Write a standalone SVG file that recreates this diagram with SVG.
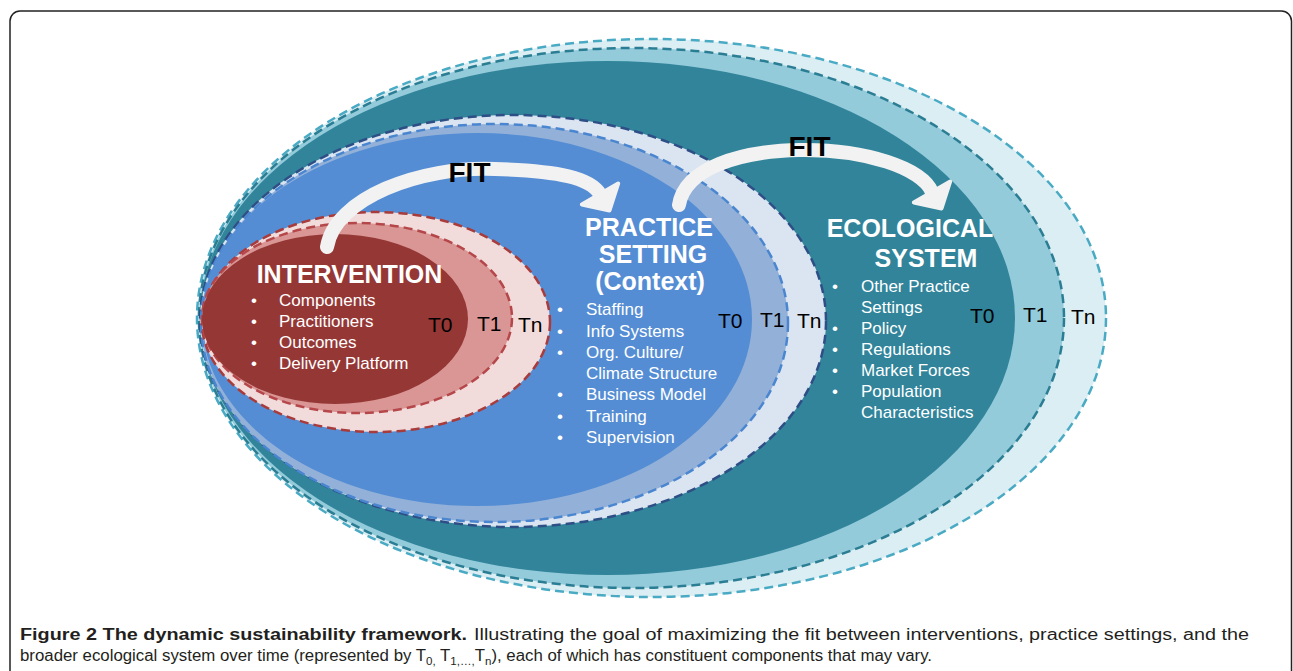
<svg xmlns="http://www.w3.org/2000/svg" width="1293" height="671" viewBox="0 0 1293 671">
<style>
.t{font-family:"Liberation Sans",Arial,sans-serif}
.title{font-family:"Liberation Sans",Arial,sans-serif;font-weight:bold;font-size:25px;fill:#fff;text-anchor:middle}
.item{font-family:"Liberation Sans",Arial,sans-serif;font-size:17px;fill:#fff}
.bul{font-family:"Liberation Sans",Arial,sans-serif;font-size:17px;fill:#fff;text-anchor:middle}
.tl{font-family:"Liberation Sans",Arial,sans-serif;font-size:21px;fill:#000}
.fit{font-family:"Liberation Sans",Arial,sans-serif;font-weight:bold;font-size:28px;fill:#000;text-anchor:middle}
.dash{stroke-width:2.5;stroke-dasharray:9 5}
.arc{fill:none;stroke:#f2f2f2;stroke-width:14;stroke-linecap:round}
.head{fill:#f2f2f2;stroke:#f2f2f2;stroke-width:4;stroke-linejoin:round}
.cap{font-family:"Liberation Sans",Arial,sans-serif;font-size:16px;fill:#231f20}
</style>
<rect x="10" y="11" width="1281.5" height="700" rx="10" fill="#fff" stroke="#222" stroke-width="1.5"/>

<g id="ecological">
<ellipse cx="651.5" cy="318" rx="454.5" ry="279" fill="#dbeef3" stroke="#4aaac4" class="dash"/>
<ellipse cx="631.5" cy="318" rx="432.5" ry="270" fill="#93cbdb" stroke="#2a7d92" class="dash"/>
<ellipse cx="607.5" cy="318" rx="407.5" ry="257" fill="#31849a"/>
</g>
<g id="practice">
<ellipse cx="513" cy="321" rx="313" ry="206" fill="#dbe5f2" stroke="#2e4e86" class="dash"/>
<ellipse cx="494.5" cy="323" rx="293.5" ry="199" fill="#93b1d8" stroke="#4a86d0" class="dash"/>
<ellipse cx="477" cy="319.5" rx="275" ry="186.5" fill="#548dd4"/>
</g>
<g id="intervention">
<ellipse cx="376" cy="322" rx="174" ry="110" fill="#f2dcdb" stroke="#a83b3b" class="dash"/>
<ellipse cx="357" cy="318" rx="155" ry="95" fill="#d99695" stroke="#b5474a" class="dash"/>
<ellipse cx="335" cy="319" rx="133" ry="85" fill="#953735"/>
</g>

<g id="connectors">
<path class="arc" d="M327 247 C335 198 420 166 495 169 C560 171 590 178 600 194"/>
<polygon class="head" points="581.8,204.5 618.2,183.5 609.5,210.5"/>
<path class="arc" d="M679 205 C685 168 740 151 800 150 C865 149 922 168 932 192"/>
<polygon class="head" points="913.8,202.5 950.2,181.5 941.5,208.5"/>
<text class="fit" x="469.5" y="182">FIT</text>
<text class="fit" x="809.5" y="156">FIT</text>
</g>

<g id="intervention-text">
<text class="title" x="349.5" y="283">INTERVENTION</text>
<text class="bul" x="254" y="306">•</text><text class="item" x="279" y="306">Components</text>
<text class="bul" x="254" y="327">•</text><text class="item" x="279" y="327">Practitioners</text>
<text class="bul" x="254" y="348">•</text><text class="item" x="279" y="348">Outcomes</text>
<text class="bul" x="254" y="369">•</text><text class="item" x="279" y="369">Delivery Platform</text>
<text class="tl" x="428" y="332">T0</text>
<text class="tl" x="477" y="331">T1</text>
<text class="tl" x="518" y="332">Tn</text>
</g>

<g id="practice-text">
<text class="title" x="649" y="236">PRACTICE</text>
<text class="title" x="653" y="263">SETTING</text>
<text class="title" x="650" y="290">(Context)</text>
<text class="bul" x="560" y="315">•</text><text class="item" x="586" y="315">Staffing</text>
<text class="bul" x="560" y="337">•</text><text class="item" x="586" y="337">Info Systems</text>
<text class="bul" x="560" y="358">•</text><text class="item" x="586" y="358">Org. Culture/</text>
<text class="item" x="586" y="379">Climate Structure</text>
<text class="bul" x="560" y="400">•</text><text class="item" x="586" y="400">Business Model</text>
<text class="bul" x="560" y="422">•</text><text class="item" x="586" y="422">Training</text>
<text class="bul" x="560" y="443">•</text><text class="item" x="586" y="443">Supervision</text>
<text class="tl" x="718" y="328">T0</text>
<text class="tl" x="760" y="327">T1</text>
<text class="tl" x="797" y="328">Tn</text>
</g>

<g id="ecological-text">
<text class="title" x="910" y="237">ECOLOGICAL</text>
<text class="title" x="926" y="267">SYSTEM</text>
<text class="bul" x="835" y="292">•</text><text class="item" x="861" y="292">Other Practice</text>
<text class="item" x="861" y="313">Settings</text>
<text class="bul" x="835" y="334">•</text><text class="item" x="861" y="334">Policy</text>
<text class="bul" x="835" y="355">•</text><text class="item" x="861" y="355">Regulations</text>
<text class="bul" x="835" y="376">•</text><text class="item" x="861" y="376">Market Forces</text>
<text class="bul" x="835" y="397">•</text><text class="item" x="861" y="397">Population</text>
<text class="item" x="861" y="418">Characteristics</text>
<text class="tl" x="970" y="323">T0</text>
<text class="tl" x="1023" y="322">T1</text>
<text class="tl" x="1071" y="324">Tn</text>
</g>

<g id="caption">
<text class="cap" x="20" y="640" font-weight="bold" textLength="447" lengthAdjust="spacingAndGlyphs">Figure 2 The dynamic sustainability framework.</text>
<text class="cap" x="474" y="640" textLength="775" lengthAdjust="spacingAndGlyphs">Illustrating the goal of maximizing the fit between interventions, practice settings, and the</text>
<text class="cap" x="20" y="661" textLength="912" lengthAdjust="spacingAndGlyphs">broader ecological system over time (represented by T<tspan dy="4" font-size="11">0,</tspan><tspan dy="-4"> T</tspan><tspan dy="4" font-size="11">1,…,</tspan><tspan dy="-4">T</tspan><tspan dy="4" font-size="11">n</tspan><tspan dy="-4">), each of which has constituent components that may vary.</tspan></text>
</g>
</svg>
